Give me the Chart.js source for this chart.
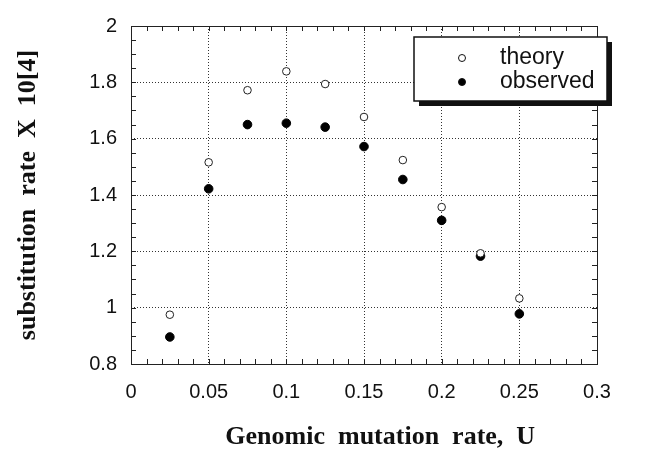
<!DOCTYPE html>
<html>
<head>
<meta charset="utf-8">
<script src="https://cdn.jsdelivr.net/npm/chart.js@4/dist/chart.umd.min.js"></script>
<style>
  html, body { margin: 0; padding: 0; background: #fff; }
  #wrap { width: 661px; height: 453px; }
</style>
</head>
<body>
<div id="wrap"><canvas id="chart" width="661" height="453"></canvas></div>
<script>
// mutation rate U on the x axis
const mutationRates = [0.025, 0.05, 0.075, 0.1, 0.125, 0.15, 0.175, 0.2, 0.225, 0.25];
// substitution rate x 10^4
const theoryValues = [0.975, 1.516, 1.772, 1.839, 1.794, 1.677, 1.524, 1.357, 1.193, 1.033];
const observedValues = [0.896, 1.422, 1.650, 1.655, 1.641, 1.572, 1.455, 1.310, 1.183, 0.978];
const seriesLabels = ['theory', 'observed'];
// wide word gaps as in the original figure (leading spaces nudge it right)
const xTitle = '     Genomic  mutation  rate,  U';
const yTitle = 'substitution  rate  X  10[4]';

const toPoints = vals => vals.map((v, i) => ({ x: mutationRates[i], y: v }));
const fmt = v => String(+Number(v).toFixed(3));

// inward ticks (major + minor) on all four sides, plus the box
const frameTicks = {
  id: 'frameTicks',
  afterDraw(chart) {
    const { ctx, chartArea: a, scales: { x, y } } = chart;
    ctx.save();
    ctx.strokeStyle = '#222';
    ctx.lineWidth = 1;
    ctx.strokeRect(a.left + 0.5, a.top + 0.5, a.right - a.left, a.bottom - a.top);
    ctx.beginPath();
    for (let v = 0; v <= 0.3001; v += 0.01) {
      const px = Math.round(x.getPixelForValue(v)) + 0.5;
      ctx.moveTo(px, a.bottom); ctx.lineTo(px, a.bottom - 5);
      ctx.moveTo(px, a.top); ctx.lineTo(px, a.top + 5);
    }
    for (let v = 0.8; v <= 2.0001; v += 0.05) {
      const py = Math.round(y.getPixelForValue(v)) + 0.5;
      ctx.moveTo(a.left, py); ctx.lineTo(a.left + 5, py);
      ctx.moveTo(a.right, py); ctx.lineTo(a.right - 5, py);
    }
    ctx.stroke();
    ctx.restore();
  }
};

// boxed legend with a drop shadow, drawn inside the plot
const boxLegend = {
  id: 'boxLegend',
  afterDraw(chart) {
    const ctx = chart.ctx;
    const bx = 414, by = 37, bw = 193, bh = 64;
    ctx.save();
    ctx.fillStyle = '#111';
    ctx.fillRect(bx + 5, by + 5, bw, bh);
    ctx.fillStyle = '#fff';
    ctx.fillRect(bx, by, bw, bh);
    ctx.strokeStyle = '#111';
    ctx.lineWidth = 1.5;
    ctx.strokeRect(bx, by, bw, bh);
    ctx.font = '23px "Liberation Sans", Arial, sans-serif';
    ctx.textBaseline = 'middle';
    chart.data.datasets.forEach((ds, i) => {
      const cy = by + 21 + i * 24;
      ctx.beginPath();
      ctx.arc(bx + 48, cy, 3.5, 0, Math.PI * 2);
      ctx.fillStyle = ds.pointBackgroundColor;
      ctx.fill();
      ctx.strokeStyle = '#111';
      ctx.lineWidth = 1;
      ctx.stroke();
      ctx.fillStyle = '#111';
      ctx.fillText(ds.label, bx + 86, cy);
    });
    ctx.restore();
  }
};

new Chart(document.getElementById('chart'), {
  type: 'scatter',
  data: {
    datasets: [
      {
        label: seriesLabels[0],
        data: toPoints(theoryValues),
        pointRadius: 3.8,
        pointBorderWidth: 1,
        pointBackgroundColor: '#fff',
        pointBorderColor: '#222'
      },
      {
        label: seriesLabels[1],
        data: toPoints(observedValues),
        pointRadius: 4.3,
        pointBorderWidth: 1,
        pointBackgroundColor: '#000',
        pointBorderColor: '#000'
      }
    ]
  },
  options: {
    responsive: false,
    animation: false,
    layout: { padding: { top: 14, right: 64, left: 0, bottom: 0 } },
    plugins: { legend: { display: false }, tooltip: { enabled: false } },
    scales: {
      x: {
        type: 'linear', min: 0, max: 0.3,
        afterFit(s) { s.height = 89; },
        border: { display: false, dash: [1, 2] },
        grid: { color: '#333', drawTicks: false, lineWidth: 1 },
        ticks: {
          stepSize: 0.05, padding: 16, color: '#111',
          font: { family: '"Liberation Sans", Arial, sans-serif', size: 20 },
          callback: v => fmt(v)
        },
        title: {
          display: true, text: xTitle, color: '#111',
          font: { family: '"Liberation Serif", "Times New Roman", serif', size: 26, weight: 'bold' },
          padding: { top: 12, bottom: 0 }
        }
      },
      y: {
        min: 0.8, max: 2,
        afterFit(s) { s.width = 131; },
        border: { display: false, dash: [1, 2] },
        grid: { color: '#333', drawTicks: false, lineWidth: 1 },
        ticks: {
          stepSize: 0.2, padding: 14, color: '#111',
          font: { family: '"Liberation Sans", Arial, sans-serif', size: 20 },
          callback: v => fmt(v)
        },
        title: {
          display: true, text: yTitle, color: '#111',
          font: { family: '"Liberation Serif", "Times New Roman", serif', size: 26, weight: 'bold' },
          padding: { top: 13, bottom: 0 }
        }
      }
    }
  },
  plugins: [frameTicks, boxLegend]
});
</script>
</body>
</html>
